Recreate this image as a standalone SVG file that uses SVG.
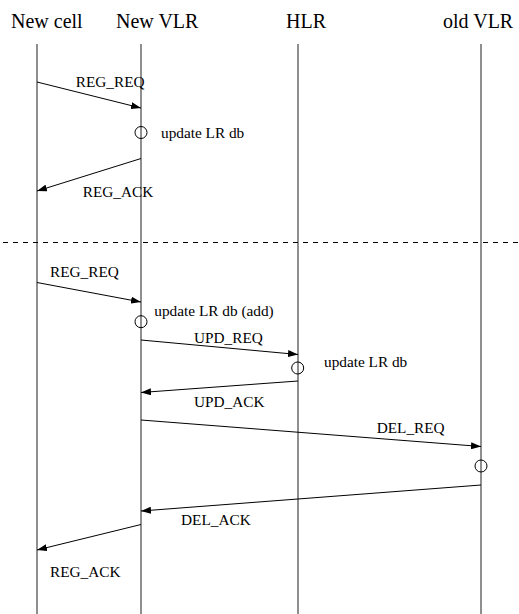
<svg xmlns="http://www.w3.org/2000/svg" width="519" height="614" viewBox="0 0 519 614">
<defs>
<style>
text{font-family:'Liberation Serif','Times New Roman',Times,serif;fill:#000}
.hdr{font-size:20px}
.lbl{font-size:15.3px}
.life{stroke:#333;stroke-width:1.1;fill:none}
.msg{stroke:#000;stroke-width:1;fill:none;marker-end:url(#ah)}
.act{stroke:#000;stroke-width:1;fill:none}
.sep{stroke:#000;stroke-width:1;stroke-dasharray:5 5;fill:none}
</style>
<marker id="ah" viewBox="0 0 10 7" refX="10" refY="3.5" markerWidth="10" markerHeight="7" markerUnits="userSpaceOnUse" orient="auto">
<path d="M0,0 L10,3.5 L0,7 Z" fill="#000"/>
</marker>
</defs>
<rect width="519" height="614" fill="#fff"/>
<g id="newcell">
<text class="hdr" x="11" y="27.5" font-family="Liberation Serif, serif">New cell</text>
<line class="life" x1="37" y1="44" x2="37" y2="614"/>
</g>
<g id="newvlr">
<text class="hdr" x="116" y="27.5" font-family="Liberation Serif, serif">New VLR</text>
<line class="life" x1="141" y1="44" x2="141" y2="614"/>
</g>
<g id="hlr">
<text class="hdr" x="286" y="27.5" font-family="Liberation Serif, serif">HLR</text>
<line class="life" x1="298" y1="44" x2="298" y2="614"/>
</g>
<g id="oldvlr">
<text class="hdr" x="443" y="27.5" font-family="Liberation Serif, serif">old VLR</text>
<line class="life" x1="481" y1="44" x2="481" y2="614"/>
</g>
<g id="separator">
<line class="sep" x1="3" y1="242.5" x2="519" y2="242.5"/>
</g>
<g id="connectors">
<line class="msg" x1="37" y1="82" x2="141" y2="108"/>
<line class="msg" x1="141" y1="158.5" x2="37" y2="191"/>
<line class="msg" x1="37" y1="282.5" x2="141" y2="302"/>
<line class="msg" x1="141" y1="340" x2="298" y2="354.5"/>
<line class="msg" x1="298" y1="381" x2="141" y2="392.5"/>
<line class="msg" x1="141" y1="420" x2="481" y2="446.5"/>
<line class="msg" x1="481" y1="485" x2="141" y2="511"/>
<line class="msg" x1="141" y1="524.5" x2="37" y2="550"/>
</g>
<g id="activations">
<circle class="act" cx="141" cy="132.5" r="6"/>
<circle class="act" cx="141" cy="321.7" r="6"/>
<circle class="act" cx="297.7" cy="368" r="6"/>
<circle class="act" cx="481" cy="466" r="6"/>
</g>
<g id="labels" font-family="Liberation Serif, serif">
<text class="lbl" x="75.7" y="87.3">REG_REQ</text>
<text class="lbl" x="161" y="137.7">update LR db</text>
<text class="lbl" x="82.7" y="197.3">REG_ACK</text>
<text class="lbl" x="50" y="277.3">REG_REQ</text>
<text class="lbl" x="154.3" y="315.7">update LR db (add)</text>
<text class="lbl" x="194" y="342.5">UPD_REQ</text>
<text class="lbl" x="324" y="367">update LR db</text>
<text class="lbl" x="194" y="406.7">UPD_ACK</text>
<text class="lbl" x="376.7" y="433.3">DEL_REQ</text>
<text class="lbl" x="181" y="525">DEL_ACK</text>
<text class="lbl" x="50" y="576.7">REG_ACK</text>
</g>
</svg>
